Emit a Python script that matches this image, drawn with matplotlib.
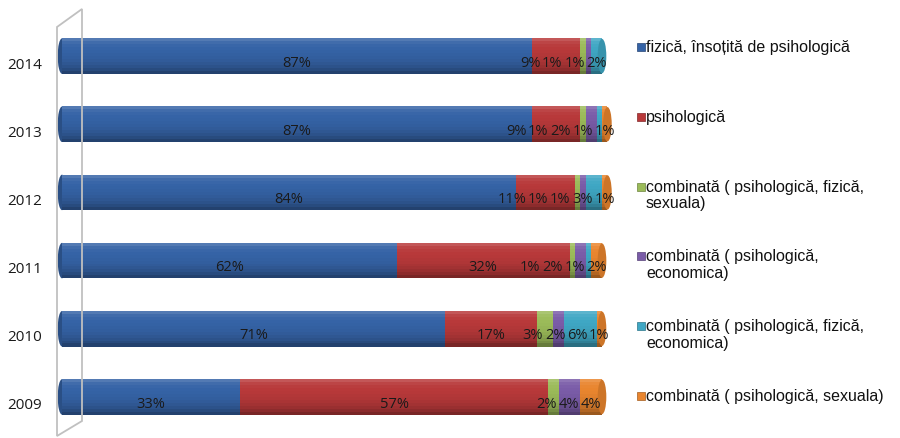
#!/usr/bin/env python3
"""Stacked cylinder-style bar chart: forms of violence by year, 2009-2014."""

import matplotlib

matplotlib.use("Agg")
import matplotlib.pyplot as plt
from matplotlib.colors import to_rgb
from matplotlib.patches import Ellipse, Polygon, Rectangle
from matplotlib.transforms import ScaledTranslation

years = ["2009", "2010", "2011", "2012", "2013", "2014"]

series_names = [
    "fizică, însoțită de psihologică",
    "psihologică",
    "combinată ( psihologică, fizică,\nsexuala)",
    "combinată ( psihologică,\neconomica)",
    "combinată ( psihologică, fizică,\neconomica)",
    "combinată ( psihologică, sexuala)",
]

# percent values, one list per series, in the order of `years`
fizica_psiho = [33, 71, 62, 84, 87, 87]
psihologica = [57, 17, 32, 11, 9, 9]
comb_psi_fiz_sex = [2, 3, 1, 1, 1, 1]
comb_psi_eco = [4, 2, 2, 1, 2, 1]
comb_psi_fiz_eco = [0, 6, 1, 3, 1, 2]
comb_psi_sex = [4, 1, 2, 1, 1, 0]

series = [fizica_psiho, psihologica, comb_psi_fiz_sex,
          comb_psi_eco, comb_psi_fiz_eco, comb_psi_sex]
colors = ["#3563a6", "#b8393a", "#9bbb59", "#7a5ca8", "#3fa7c4", "#e9852e"]


def shade(color, f):
    r, g, b = to_rgb(color)
    if f <= 1:
        return (r * f, g * f, b * f)
    t = f - 1
    return (r + (1 - r) * t, g + (1 - g) * t, b + (1 - b) * t)


def label_width(s):
    # rough width of a label in data units (Open Sans 10.5pt, 5.4 px per unit)
    return sum(2.25 if ch == "%" else 1.55 for ch in s)


# brightness profile across the cylinder, top -> bottom
profile = [1.15, 1.06, 1.02, 1.0, 0.99, 0.97, 0.95, 0.92, 0.88, 0.83, 0.76, 0.66]

fig = plt.figure(figsize=(9, 4.39), dpi=100)
ax = fig.add_axes([62 / 900, 7 / 439, 540 / 900, 409 / 439])
ax.set_xlim(0, 100)
ax.set_ylim(-0.5, len(years) - 0.5)
ax.axis("off")

# the grey side wall of the 3D plot area
wall = Polygon([(57, 439 - 28), (82, 439 - 10), (82, 439 - 422), (57, 439 - 437)],
               closed=True, fill=False, edgecolor="#c0c0c0", lw=1.3,
               transform=None, zorder=0)
fig.patches.append(wall)

ypos = list(range(len(years)))
bar_h = 0.52
n = len(profile)
strip = bar_h / n

# rounded left ends
for y in ypos:
    ax.add_patch(Ellipse((0, y), 1.6, bar_h, facecolor=shade(colors[0], 0.8),
                         edgecolor="none", zorder=1, clip_on=False))

lefts = [0] * len(years)
for vals, col in zip(series, colors):
    for k, f in enumerate(profile):
        off = bar_h / 2 - (k + 0.5) * strip
        ax.barh([y + off for y in ypos], vals, left=lefts, height=strip * 1.02,
                color=shade(col, f), linewidth=0, clip_on=False, zorder=2)
    lefts = [l + v for l, v in zip(lefts, vals)]

# rounded right caps
for i, y in enumerate(ypos):
    last = max(j for j in range(len(series)) if series[j][i] > 0)
    ax.add_patch(Ellipse((lefts[i], y), 1.6, bar_h * 0.97,
                         facecolor=shade(colors[last], 0.88),
                         edgecolor="none", zorder=3, clip_on=False))

# percentage labels, small segments spread apart so they do not collide
for i, y in enumerate(ypos):
    centers = []
    start = 0
    for vals in series:
        v = vals[i]
        if v > 0:
            centers.append((start + v / 2, f"{v}%", v))
        start += v
    xs = [c[0] for c in centers]
    if centers[-1][2] < 5:
        xs[-1] = min(xs[-1], 101.5)
    for k in range(len(xs) - 2, -1, -1):
        need = (label_width(centers[k][1]) + label_width(centers[k + 1][1])) / 2 + 0.3
        xs[k] = min(xs[k], xs[k + 1] - need)
    for x, (c, s, v) in zip(xs, centers):
        ax.text(x, y - 0.09, s, ha="center", va="center", fontsize=10.5,
                family="Open Sans", color="#1a1a1a", zorder=5, clip_on=False)

# year labels, slightly below the bar axis
shift = ScaledTranslation(0, -8 / 100, fig.dpi_scale_trans)
for y, yr in zip(ypos, years):
    ax.text(-20 / 5.4, y, yr, ha="right", va="center", fontsize=11,
            family="Open Sans", color="#1a1a1a",
            transform=ax.transData + shift)

# legend, entries evenly spaced from the top
for i, (name, col) in enumerate(zip(series_names, colors)):
    ytop = 48 + i * 69.8
    fig.patches.append(Rectangle((637 / 900, 1 - (ytop + 4) / 439), 8 / 900, 8 / 439,
                                 transform=fig.transFigure, facecolor=col,
                                 edgecolor=shade(col, 0.7), lw=0.5))
    fig.text(646 / 900, 1 - (ytop - 8) / 439, name, ha="left", va="top",
             fontsize=11.5, family="Liberation Sans", color="#111111",
             linespacing=1.15)

fig.savefig("out.png", dpi=100)
print("Wrote out.png")
